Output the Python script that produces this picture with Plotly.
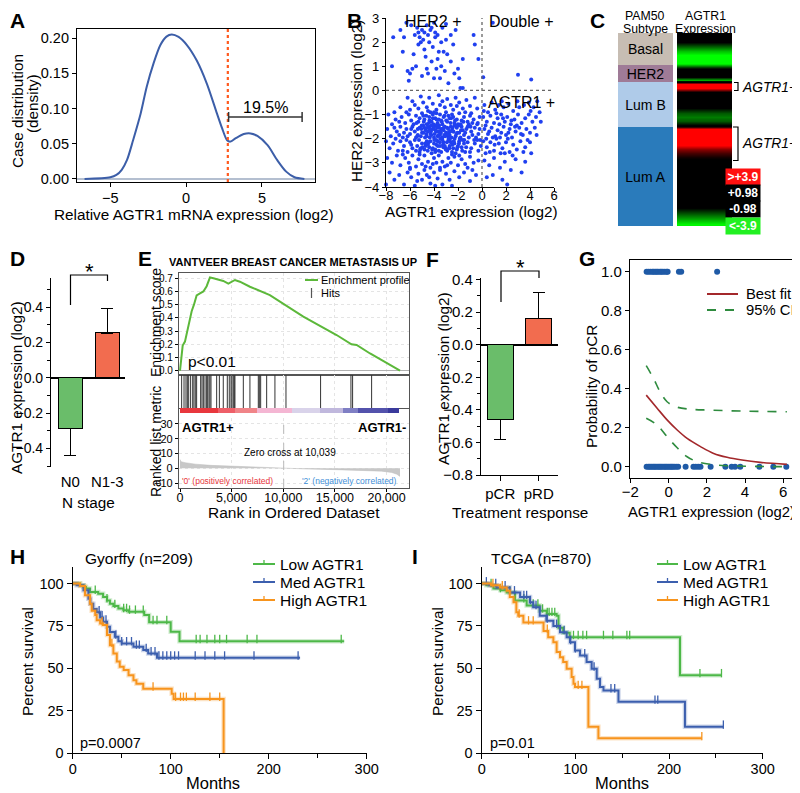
import numpy as np
import plotly.graph_objects as go

W, H = 800, 793
OFF = 8  # the page body margin shifts the figure by this many pixels
FONT = "Liberation Sans, Arial, Helvetica, sans-serif"

# ---------------- A: density of AGTR1 expression
a_x = [-6.7, -5.0, -4.6, -4.25, -3.9, -3.5, -3.0, -2.6, -2.15, -1.7, -1.3, -0.95, -0.5, 0.05, 0.7,
       1.37, 2.03, 2.37, 2.7, 2.92, 3.25, 3.8, 4.25, 4.7, 5.37, 6.0, 6.6, 7.15, 7.8]
a_density = [0.0, 0.0024, 0.0057, 0.013, 0.027, 0.055, 0.093, 0.131, 0.164, 0.19, 0.202, 0.205, 0.2015,
             0.19, 0.168, 0.135, 0.093, 0.072, 0.055, 0.053, 0.0575, 0.0637, 0.0646, 0.061, 0.048, 0.027,
             0.0104, 0.0024, 0.0]
a_cutoff = 2.75
a_span = [2.8, 7.65]
a_span_y = 0.088
a_pct = "19.5%"

# ---------------- B: AGTR1 vs HER2 (agtr1, her2)
b_her2_pos = [(-6.3, 2.8), (-5.9, 2.7), (-5.4, 2.6), (-5.0, 2.5), (-4.8, 2.4), (-4.6, 2.7), (-4.3, 2.5), (-4.0, 2.8),
              (-3.7, 2.3), (-3.3, 2.6), (-3.0, 2.75), (-2.2, 2.5), (-5.6, 2.3), (-5.2, 2.2), (-4.9, 2.1), (-4.4, 2.0),
              (-3.9, 2.2), (-4.1, 1.8), (-3.6, 1.6), (-3.2, 1.6), (-6.5, 2.2), (-7.4, 2.2), (-5.7, 1.5), (-5.5, 1.0),
              (-4.7, 1.4), (-4.2, 1.2), (-3.8, 0.9), (-3.4, 1.0), (-3.1, 0.8), (-2.6, 1.2), (-2.0, 0.9), (-1.6, 1.3),
              (-0.7, 2.3), (-0.6, 1.9), (-0.3, 1.3), (-6.0, 0.7), (-5.8, 0.9), (-6.2, 0.8), (-6.1, 0.4), (-4.5, 0.7),
              (-4.0, 0.5), (-3.5, 0.5), (-2.8, 0.3), (-1.8, 0.1), (-1.6, 0.1), (-7.5, 1.0), (-5.3, 1.9), (-4.8, 1.7),
              (-5.1, 2.0), (-4.5, 2.3), (-4.2, 2.6), (-3.9, 2.4), (-5.3, 2.4), (-3.4, 2.0), (-2.9, 1.5), (-2.4, 1.9),
              (-1.9, 0.5), (-6.6, 1.6), (-3.0, 2.1), (-4.6, 0.9), (-5.0, 0.6), (-2.3, 0.7), (-3.7, 1.3), (-6.8, 2.5),
              (-2.6, 2.3)]
b_double_pos = [(0.9, 2.8), (3.0, 0.65), (4.1, 0.45), (0.1, 0.55)]
b_agtr1_pos = [(0.2, -0.6), (0.5, -0.9), (0.8, -0.5), (1.1, -0.8), (1.4, -0.6), (1.8, -0.7), (2.2, -0.55), (2.6, -0.85),
               (3.1, -0.7), (3.5, -0.6), (3.9, -0.5), (4.3, -0.7), (4.8, -0.9), (4.6, -0.45),
               (0.1, -1.1), (0.4, -1.3), (0.7, -1.05), (1.0, -1.35), (1.3, -1.15), (1.6, -1.0), (1.9, -1.3), (2.1, -1.1),
               (2.4, -1.4), (2.7, -1.2), (3.0, -1.0), (3.3, -1.35), (3.6, -1.15), (3.9, -1.0), (4.2, -1.3), (4.5, -1.1),
               (0.3, -1.45), (1.2, -0.95), (2.9, -1.45),
               (0.2, -1.6), (0.5, -1.8), (0.8, -1.55), (1.1, -1.9), (1.3, -1.65), (1.6, -1.75), (1.8, -1.5), (2.0, -1.85),
               (2.3, -1.6), (2.5, -1.95), (2.8, -1.7), (3.1, -1.55), (3.4, -1.85), (3.7, -1.6), (4.0, -1.75), (4.4, -1.55),
               (0.9, -1.95), (1.5, -1.95), (2.2, -1.75),
               (0.1, -2.1), (0.4, -2.35), (0.7, -2.15), (1.0, -2.5), (1.4, -2.2), (1.7, -2.4), (2.0, -2.15), (2.3, -2.55),
               (2.6, -2.25), (2.9, -2.45), (3.2, -2.1), (3.6, -2.35), (4.1, -2.6), (4.0, -2.15), (0.3, -2.6), (1.2, -2.0),
               (1.9, -2.6),
               (0.2, -2.9), (0.6, -3.1), (1.0, -2.8), (1.5, -3.2), (1.9, -2.95), (2.4, -3.3), (2.8, -2.85), (3.3, -3.4),
               (0.9, -3.5), (1.7, -3.7), (2.1, -3.9), (0.4, -3.6), (3.6, -2.95),
               (0.6, -1.7), (1.45, -1.4), (2.15, -2.0), (2.75, -1.5), (3.25, -1.8), (0.35, -2.0), (1.75, -1.15),
               (2.45, -1.25), (3.8, -2.05), (1.05, -2.25), (0.65, -2.55), (1.55, -2.6), (2.55, -2.7), (3.45, -2.55),
               (4.55, -1.85), (4.9, -1.3), (0.15, -0.85), (1.65, -0.45), (2.95, -0.45), (4.05, -0.85)]
b_neither = [(-6.2, -0.3), (-5.1, -0.25), (-4.4, -0.3), (-3.6, -0.2), (-2.9, -0.35), (-2.2, -0.3), (-1.3, -0.4),
             (-0.6, -0.3), (-5.6, -0.6), (-4.9, -0.5), (-4.1, -0.55), (-3.3, -0.45), (-2.6, -0.6), (-1.9, -0.5),
             (-1.0, -0.65), (-0.4, -0.75), (-6.8, -0.7), (-6.0, -0.8), (-5.3, -0.75), (-4.6, -0.7), (-3.8, -0.8),
             (-3.1, -0.7), (-2.4, -0.8), (-1.6, -0.75), (-7.3, -0.9), (-4.3, -0.9), (-0.9, -0.95), (-3.5, -0.6),
             (-2.1, -0.65), (-5.8, -0.45),
             (-7.8, -1.0), (-7.2, -1.2), (-6.7, -1.1), (-6.4, -1.35), (-6.1, -1.0), (-5.9, -1.25), (-5.5, -1.05),
             (-5.3, -1.3), (-5.0, -0.95), (-4.8, -1.2), (-4.6, -1.4), (-4.4, -1.1), (-4.2, -1.3), (-4.0, -0.9),
             (-3.9, -1.15), (-3.7, -1.35), (-3.5, -1.0), (-3.4, -1.25), (-3.2, -1.1), (-3.0, -0.9), (-2.9, -1.3),
             (-2.7, -1.15), (-2.5, -1.0), (-2.3, -1.35), (-2.1, -1.2), (-1.9, -0.95), (-1.7, -1.25), (-1.5, -1.1),
             (-1.2, -1.3), (-1.0, -1.05), (-0.7, -1.2), (-0.4, -1.4), (-0.2, -1.1), (-6.9, -1.3), (-5.7, -1.4),
             (-4.9, -1.05), (-4.1, -1.0), (-3.6, -1.2), (-2.8, -1.05), (-2.0, -1.4), (-1.4, -0.9), (-0.8, -1.35),
             (-5.2, -1.15), (-4.5, -0.85), (-3.3, -1.4), (-2.4, -1.1), (-6.3, -0.9), (-7.5, -1.4), (-3.8, -0.95),
             (-1.1, -1.4),
             (-7.9, -1.6), (-7.6, -1.9), (-7.1, -1.7), (-6.8, -1.5), (-6.6, -1.95), (-6.3, -1.6), (-6.0, -1.8),
             (-5.8, -1.5), (-5.6, -1.7), (-5.4, -1.9), (-5.2, -1.55), (-5.0, -1.75), (-4.9, -1.45), (-4.7, -1.65),
             (-4.6, -1.9), (-4.4, -1.5), (-4.3, -1.8), (-4.1, -1.6), (-4.0, -1.95), (-3.9, -1.45), (-3.8, -1.7),
             (-3.6, -1.55), (-3.5, -1.85), (-3.4, -1.6), (-3.3, -1.95), (-3.1, -1.5), (-3.0, -1.75), (-2.9, -1.55),
             (-2.7, -1.85), (-2.6, -1.5), (-2.4, -1.7), (-2.2, -1.9), (-2.1, -1.55), (-1.9, -1.75), (-1.7, -1.5),
             (-1.5, -1.85), (-1.3, -1.6), (-1.1, -1.95), (-0.9, -1.7), (-0.6, -1.55), (-0.3, -1.8), (-6.5, -1.75),
             (-5.9, -1.6), (-5.1, -1.9), (-4.5, -1.7), (-4.2, -1.45), (-3.7, -1.9), (-3.2, -1.65), (-2.8, -1.95),
             (-2.3, -1.45), (-1.8, -1.95), (-1.2, -1.5), (-0.5, -1.95), (-7.3, -1.55), (-5.5, -1.95), (-4.8, -1.55),
             (-3.95, -1.8), (-3.55, -1.7), (-2.5, -1.65), (-1.6, -1.65), (-0.8, -1.85), (-6.2, -1.9), (-4.35, -1.6),
             (-3.15, -1.85), (-2.05, -1.75), (-5.35, -1.6), (-4.65, -1.8), (-3.75, -1.55), (-2.65, -1.7), (-1.4, -1.75),
             (-0.2, -1.6), (-6.9, -1.85),
             (-8.0, -2.1), (-7.7, -2.4), (-7.4, -2.2), (-7.0, -2.5), (-6.8, -2.1), (-6.5, -2.3), (-6.2, -2.55),
             (-6.0, -2.15), (-5.8, -2.4), (-5.6, -2.05), (-5.4, -2.3), (-5.2, -2.55), (-5.0, -2.2), (-4.8, -2.45),
             (-4.6, -2.1), (-4.4, -2.35), (-4.2, -2.6), (-4.0, -2.2), (-3.9, -2.45), (-3.7, -2.1), (-3.5, -2.3),
             (-3.4, -2.55), (-3.2, -2.15), (-3.0, -2.4), (-2.8, -2.05), (-2.7, -2.3), (-2.5, -2.55), (-2.3, -2.2),
             (-2.1, -2.45), (-1.9, -2.1), (-1.7, -2.35), (-1.4, -2.55), (-1.2, -2.15), (-0.9, -2.4), (-0.6, -2.2),
             (-0.3, -2.5), (-0.1, -2.3), (-6.6, -2.5), (-5.9, -2.25), (-5.1, -2.4), (-4.5, -2.25), (-4.1, -2.4),
             (-3.6, -2.5), (-3.1, -2.3), (-2.6, -2.15), (-2.0, -2.3), (-1.5, -2.2), (-1.0, -2.55), (-7.2, -2.0),
             (-5.5, -2.5), (-4.7, -2.3), (-3.8, -2.25), (-2.9, -2.5), (-2.2, -2.6), (-1.6, -2.05), (-0.4, -2.05),
             (-6.3, -2.05), (-4.3, -2.1), (-3.3, -2.05), (-2.4, -2.4),
             (-7.9, -2.8), (-7.5, -3.0), (-7.1, -2.7), (-6.8, -3.1), (-6.4, -2.8), (-6.1, -3.0), (-5.8, -2.7),
             (-5.5, -3.15), (-5.3, -2.85), (-5.0, -3.05), (-4.8, -2.7), (-4.5, -2.95), (-4.3, -3.2), (-4.0, -2.8),
             (-3.8, -3.0), (-3.6, -2.7), (-3.3, -2.95), (-3.1, -3.15), (-2.8, -2.8), (-2.6, -3.0), (-2.3, -2.75),
             (-2.0, -3.1), (-1.7, -2.85), (-1.4, -3.05), (-1.0, -2.75), (-0.7, -3.0), (-0.3, -2.9), (-6.6, -2.65),
             (-5.2, -2.65), (-4.1, -3.05), (-3.5, -3.2), (-2.5, -2.65), (-1.9, -2.7), (-6.0, -3.2), (-4.7, -3.15),
             (-2.9, -3.1), (-1.2, -3.2),
             (-7.7, -3.4), (-7.3, -3.7), (-6.9, -3.5), (-6.5, -3.9), (-6.2, -3.4), (-5.9, -3.6), (-5.6, -3.95),
             (-5.3, -3.45), (-5.0, -3.7), (-4.6, -3.5), (-4.3, -3.85), (-4.0, -3.4), (-3.7, -3.65), (-3.3, -3.9),
             (-3.0, -3.45), (-2.7, -3.7), (-2.3, -3.35), (-1.9, -3.6), (-1.5, -3.4), (-1.0, -3.75), (-0.5, -3.5),
             (-8.0, -3.9), (-6.0, -3.25), (-4.8, -3.3), (-3.9, -3.95), (-2.5, -3.95), (-0.8, -3.3), (-5.4, -3.75),
             (-4.4, -3.6), (-3.5, -3.3)]
b_core = [(-5.45, -1.35), (-5.25, -2.05), (-5.05, -1.6), (-4.95, -2.35), (-4.85, -1.3), (-4.75, -1.95), (-4.55, -1.55),
          (-4.45, -2.15), (-4.38, -1.25), (-4.25, -1.7), (-4.15, -2.45), (-4.05, -1.4), (-3.98, -2.05), (-3.88, -1.65),
          (-3.78, -1.2), (-3.68, -2.3), (-3.58, -1.45), (-3.48, -2.0), (-3.42, -1.75), (-3.35, -1.3), (-3.25, -2.25),
          (-3.18, -1.55), (-3.08, -1.9), (-2.98, -1.25), (-2.92, -2.15), (-2.82, -1.6), (-2.72, -2.4), (-2.62, -1.35),
          (-2.55, -1.95), (-2.45, -1.55), (-2.35, -2.1), (-2.25, -1.25), (-2.15, -1.8), (-2.05, -2.35), (-1.95, -1.45),
          (-1.85, -2.0), (-1.75, -1.65), (-1.65, -2.5), (-1.55, -1.3), (-5.35, -1.85), (-5.15, -2.45), (-4.65, -1.05),
          (-4.35, -1.95), (-4.1, -1.15), (-3.9, -2.55), (-3.62, -1.85), (-3.3, -1.6), (-3.02, -2.45), (-2.78, -1.75),
          (-2.48, -2.25), (-2.18, -1.45), (-1.92, -2.2), (-4.9, -1.75), (-4.52, -2.5), (-4.22, -1.85), (-3.72, -1.4),
          (-3.12, -1.05), (-2.88, -1.85), (-2.58, -1.15), (-2.28, -2.0), (-3.52, -2.15), (-4.02, -1.55), (-4.42, -1.35),
          (-4.72, -2.2), (-5.02, -1.45), (-3.82, -2.05), (-3.22, -2.35), (-2.68, -2.05), (-2.38, -1.7), (-1.78, -1.4),
          (-1.48, -2.05), (-1.32, -2.35), (-0.95, -1.5), (-0.65, -2.05), (-0.35, -1.35), (-0.15, -2.05)]

# ---------------- C: PAM50 subtype and AGTR1 heat strip
c_subtypes = ["Basal", "HER2", "Lum B", "Lum A"]
c_counts = [164, 87, 230, 506]
c_colors = ["#c7bdb3", "#9f7b97", "#afcbe9", "#2a7bbb"]
c_expr_basal = [0.0, 0.0, -1.2, -2.2, -3.2, -3.9, -4.2, -4.2]
c_expr_her2 = [-1.8, -0.3, 0.0, -1.0, -3.0]
c_expr_lumb = [4.2, 4.0, 0.8, 0.0, 0.0, -0.3, -1.2, -2.0, -2.4, -2.0, -1.0]
c_expr_luma = [4.2, 4.2, 4.2, 4.2, 4.0, 2.6, 1.8, 1.2, 0.8, 0.3, 0.0, 0.0, 0.0, 0.0, 0.0, 0.0, 0.0, 0.0,
               0.0, -0.3, -1.0, -1.7, -2.4, -3.1, -3.8]
c_key_labels = ["&gt;+3.9", "+0.98", "-0.98", "&lt;-3.9"]
c_key_colors = ["#ff1010", "#000000", "#000000", "#22f022"]

# ---------------- D: N stage
d_stage = ["N0", "N1-3"]
d_mean = [-0.285, 0.255]
d_err = [0.155, 0.14]

# ---------------- E: GSEA
e_rank = [0, 160, 260, 480, 650, 800, 970, 1130, 1350, 1610, 1935, 2260, 2580, 2900, 3230, 3700, 4190,
          4680, 5320, 5800, 6770, 8700, 11940, 15160, 16600, 17100, 18400, 21300]
e_es = [0.0, 0.093, 0.19, 0.22, 0.28, 0.35, 0.41, 0.45, 0.50, 0.57, 0.585, 0.60, 0.64, 0.707, 0.70, 0.69,
        0.68, 0.66, 0.687, 0.674, 0.636, 0.573, 0.41, 0.27, 0.20, 0.195, 0.13, 0.0]
e_hits = [160, 390, 580, 710, 840, 1030, 1230, 1350, 1480, 1610, 2000, 2130, 2260, 2420, 2580, 2680, 2810,
          2900, 3000, 3550, 3810, 4190, 4580, 4770, 4940, 5030, 5160, 5260, 5320, 6130, 6770, 7580, 7680,
          7810, 8390, 9190, 10260, 13610, 16550, 16710, 18550]
e_band_edges = [0, 3700, 5300, 7500, 10800, 13550, 15740, 17260, 20160, 21230]
e_band_colors = ["#e8373d", "#ee5f68", "#f08488", "#f4b6d3", "#d9d3ea", "#c0b8dd", "#7f7fc4", "#5352ac", "#3a3a9c"]
e_metric_rank = [0, 100, 500, 1500, 3000, 5000, 7500, 10039, 12500, 15000, 17500, 19500, 20500, 21000, 21300]
e_metric = [6.0, 4.5, 3.8, 2.8, 2.0, 1.4, 0.8, 0.0, -0.5, -0.9, -1.3, -1.9, -2.8, -4.0, -5.5]
e_zero_cross = 10039

# ---------------- F: treatment response
f_resp = ["pCR", "pRD"]
f_mean = [-0.46, 0.16]
f_err = [0.12, 0.16]

# ---------------- G: logistic fit
g_pcr_x = [-1.15, -1.05, -0.95, -0.85, -0.78, -0.7, -0.62, -0.55, -0.45, -0.38, -0.3, -0.2, -0.1, -0.05, 0.54, 0.66, 2.54]
g_prd_x = [-1.15, -1.05, -0.98, -0.9, -0.82, -0.75, -0.68, -0.6, -0.52, -0.45, -0.38, -0.3, -0.22, -0.15, -0.08,
           0.0, 0.08, 0.15, 0.22, 0.3, 0.4, 0.5, 0.89, 1.3, 1.42, 1.55, 1.67, 2.2, 2.97, 3.3, 3.48, 3.75, 4.75,
           5.48, 6.16]
g_fit_x = [-1.17, -0.6, -0.08, 0.45, 0.97, 1.67, 2.36, 3.06, 3.84, 4.8, 6.19]
g_fit = [0.367, 0.30, 0.24, 0.188, 0.145, 0.103, 0.068, 0.048, 0.034, 0.022, 0.012]
g_hi_x = [-1.17, -0.79, -0.45, -0.08, 0.36, 0.97, 2.19, 3.93, 6.19]
g_hi = [0.518, 0.453, 0.385, 0.333, 0.308, 0.296, 0.29, 0.285, 0.282]
g_lo_x = [-1.17, -0.6, -0.08, 0.45, 0.97, 1.5, 2.19, 3.06, 6.19]
g_lo = [0.248, 0.214, 0.154, 0.097, 0.051, 0.026, 0.012, 0.005, 0.0]

# ---------------- H: Gyorffy KM
h_low_t = [0, 7.5, 11, 13.6, 17.7, 26, 31, 35, 38, 41.5, 46.6, 51.7, 57, 73, 78, 100, 109, 277]
h_low_s = [100, 99, 98, 97, 95, 94, 92, 90, 88, 86.7, 85.3, 84.3, 83.3, 81.4, 77.2, 71.6, 66, 66]
h_low_cens = [23, 35, 43, 52, 55, 58, 64, 72, 82, 86, 96, 126, 130, 137, 145, 150, 157, 178, 188, 274]
h_med_t = [0, 4, 11, 16, 18, 21, 24.5, 28, 31, 35, 38, 43, 46.6, 50, 62, 72, 77, 86, 232]
h_med_s = [100, 99, 96, 91, 88, 85, 83, 80, 77.5, 74.5, 71.5, 68.6, 66, 64.7, 62.7, 60.8, 58.8, 56.3, 56.3]
h_med_cens = [27, 30, 34, 44, 50, 55, 60, 65, 68, 75, 80, 84, 88, 92, 96, 100, 104, 108, 125, 135, 145, 155, 185, 230]
h_high_t = [0, 7.5, 12.6, 17.7, 19.4, 23, 24.5, 28, 31, 35, 38, 41.5, 45, 48, 52, 57, 62, 65, 72, 101, 103, 154, 154]
h_high_s = [100, 98.5, 93, 88, 84, 81.4, 78.4, 76.5, 75.5, 69.6, 63.7, 58.8, 54, 51, 49, 46, 43, 41, 38, 35, 32, 32, 0]
h_high_cens = [30, 40, 82, 105, 110, 113, 116, 125, 140, 150]

# ---------------- I: TCGA KM
i_low_t = [0, 5, 12.5, 20, 26.7, 35.6, 48, 62, 69.4, 80, 82, 87, 94, 211.7, 256]
i_low_s = [100, 99, 97, 96, 94.7, 90, 87, 84, 82, 81, 74, 71, 68.4, 45.9, 45.9]
i_low_cens = [10, 20, 30, 45, 55, 60, 65, 70, 72, 75, 78, 98, 103, 108, 112, 130, 140, 155, 158, 233, 256]
i_med_t = [0, 8, 16, 30, 41, 51.6, 55, 62, 69, 76.5, 83.6, 90.7, 94.3, 99.6, 105, 112, 117.4, 122.8, 126.3,
           130, 146, 217, 258]
i_med_s = [100, 99, 97.7, 94.7, 92, 89, 86, 81, 78, 75, 71.3, 68.4, 65.4, 60.5, 57.6, 53.7, 49.8, 43.9, 39,
           37, 30.3, 15.6, 15.6]
i_med_cens = [5, 15, 25, 35, 45, 48, 52, 58, 70, 80, 88, 95, 100, 110, 120, 138, 142, 185, 188, 258]
i_high_t = [0, 10, 19.6, 26.7, 30, 34, 37, 39, 44.5, 62, 66, 71, 76.5, 80, 83.6, 87, 90.7, 96, 98, 99.6,
            112, 113.9, 124.6, 235]
i_high_s = [100, 99, 97.7, 95.7, 92, 89, 83, 81, 77, 77, 72, 68.4, 65.4, 59.6, 56.6, 53.7, 49.8, 45, 41, 39,
            39, 15.6, 8.8, 8.8]
i_high_cens = [12, 22, 40, 50, 55, 70, 103, 107, 235]

KM_COLORS = ["#4db848", "#3c5fae", "#f7941d"]
KM_NAMES = ["Low AGTR1", "Med AGTR1", "High AGTR1"]


def px(x):
    return (x - OFF) / W


def py(y):
    return 1 - (y - OFF) / H


def xd(a, b):
    return [px(a), px(b)]


def yd(top, bot):
    return [py(bot), py(top)]


def ppath(points):
    return "M " + " L ".join(f"{px(x):.5f},{py(y):.5f}" for x, y in points)


def ax(**kw):
    d = dict(showline=True, linecolor="black", linewidth=1.2, ticks="outside", ticklen=4, tickwidth=1.2,
             tickcolor="black", showgrid=False, zeroline=False, automargin=False,
             tickfont=dict(size=14.5, family=FONT, color="black"))
    d.update(kw)
    return d


def step_at(times, surv, t):
    i = int(np.searchsorted(times, t, side="right")) - 1
    return surv[max(i, 0)]


annotations = []
shapes = []


def txt(text, x, y, size=15.3, angle=0, xanchor="center", color="black", xref="paper", yref="paper"):
    if xref == "paper":
        x = px(x)
    if yref == "paper":
        y = py(y)
    annotations.append(dict(text=text, x=x, y=y, xref=xref, yref=yref, showarrow=False, textangle=angle,
                            xanchor=xanchor, yanchor="middle",
                            font=dict(size=size, color=color, family=FONT)))


fig = go.Figure()

# ---- A
fig.add_trace(go.Scatter(x=a_x, y=a_density, mode="lines",
                         line=dict(color="#3c5ea8", width=2, shape="spline", smoothing=0.8),
                         xaxis="x", yaxis="y"))
shapes.append(dict(type="line", xref="x", yref="y domain", x0=a_cutoff, x1=a_cutoff, y0=0, y1=1,
                   line=dict(color="#ff5a1f", width=2.2, dash="dot")))
shapes.append(dict(type="line", xref="x", yref="y", x0=a_span[0], x1=a_span[1], y0=a_span_y, y1=a_span_y,
                   line=dict(color="#333", width=1.5)))
for xv in a_span:
    shapes.append(dict(type="line", xref="x", yref="y", x0=xv, x1=xv, y0=a_span_y - 0.007, y1=a_span_y + 0.007,
                       line=dict(color="#333", width=1.5)))
txt(a_pct, (a_span[0] + a_span[1]) / 2, a_span_y + 0.014, size=16, xref="x", yref="y")

# ---- B
b_all = b_her2_pos + b_double_pos + b_agtr1_pos + b_neither + b_core
fig.add_trace(go.Scatter(x=[p[0] for p in b_all], y=[p[1] for p in b_all], mode="markers",
                         marker=dict(color="#2040f0", size=4), xaxis="x2", yaxis="y2", cliponaxis=False))
shapes.append(dict(type="line", xref="x2", yref="y2 domain", x0=0, x1=0, y0=0, y1=1,
                   line=dict(color="#666", width=1.3, dash="dot")))
shapes.append(dict(type="line", xref="x2 domain", yref="y2", x0=0, x1=1, y0=0, y1=0,
                   line=dict(color="#666", width=1.3, dash="dot")))
txt("HER2 +", -4.1, 2.85, size=16, xref="x2", yref="y2")
txt("Double +", 3.25, 2.85, size=16, xref="x2", yref="y2")
txt("AGTR1 +", 3.25, -0.5, size=16, xref="x2", yref="y2")

# ---- C
for name, n, col in zip(c_subtypes, c_counts, c_colors):
    fig.add_trace(go.Bar(x=[0], y=[n], width=1, marker=dict(color=col, line=dict(width=0)),
                         text=[name], textposition="inside", insidetextanchor="middle", constraintext="none",
                         textfont=dict(size=14, color="black", family=FONT), xaxis="x3", yaxis="y3"))
hm_y, hm_z = [], []
start = 0
for n, vals in zip(c_counts, [c_expr_basal, c_expr_her2, c_expr_lumb, c_expr_luma]):
    k = len(vals)
    for i, v in enumerate(vals):
        hm_y.append(start + (i + 0.5) * n / k)
        hm_z.append([v, v])
    start += n
fig.add_trace(go.Heatmap(x=[0, 1], y=hm_y, z=hm_z, zmin=-3.9, zmax=3.9, zsmooth="best", showscale=False,
                         colorscale=[[0, "#00ff00"], [0.374, "#000000"], [0.626, "#000000"], [1, "#ff0000"]],
                         xaxis="x4", yaxis="y4"))
for i, (lab, col) in enumerate(zip(c_key_labels, c_key_colors)):
    annotations.append(dict(text=f"<b>{lab}</b>", x=px(761), y=py(167.5 + i * 16.5), xref="paper", yref="paper",
                            showarrow=False, width=34, height=16, bgcolor=col, borderpad=0,
                            font=dict(size=12, color="white", family=FONT)))
shapes.append(dict(type="path", xref="paper", yref="paper", path=ppath([(734, 82.5), (738, 82.5), (738, 90.5), (734, 90.5)]),
                   line=dict(color="black", width=1.2)))
shapes.append(dict(type="path", xref="paper", yref="paper", path=ppath([(733, 127), (738, 127), (738, 160.5), (733, 160.5)]),
                   line=dict(color="black", width=1.2)))
txt("<i>AGTR1+</i>", 740, 87, size=13.8, xanchor="left")
txt("<i>AGTR1+</i>", 740, 143, size=13.8, xanchor="left")
txt("PAM50", 645, 15.8, size=12.3)
txt("Subtype", 645, 29, size=12.3)
txt("AGTR1", 705, 15.8, size=12.3)
txt("Expression", 705, 29, size=12.3)


def bar_err(means, errs):
    up = [e if m > 0 else 0 for m, e in zip(means, errs)]
    down = [e if m < 0 else 0 for m, e in zip(means, errs)]
    return dict(type="data", symmetric=False, array=up, arrayminus=down, color="black", thickness=1.3, width=6)


# ---- D
fig.add_trace(go.Bar(x=d_stage, y=d_mean, width=0.65,
                     marker=dict(color=["#6abd6a", "#f26c4f"], line=dict(color="black", width=1.2)),
                     error_y=bar_err(d_mean, d_err), xaxis="x5", yaxis="y5"))
shapes.append(dict(type="path", xref="paper", yref="paper", path=ppath([(70.5, 305), (70.5, 275), (107.5, 275), (107.5, 281)]),
                   line=dict(color="black", width=1.2)))
txt("*", 89, 271, size=22)

# ---- E
fig.add_trace(go.Scatter(x=e_rank, y=e_es, mode="lines", line=dict(color="#5cb83a", width=2),
                         xaxis="x6", yaxis="y6"))
hx, hy = [], []
for r in e_hits:
    hx += [r, r, None]
    hy += [0, 1, None]
fig.add_trace(go.Scatter(x=hx, y=hy, mode="lines", line=dict(color="#333", width=1), xaxis="x7", yaxis="y7"))
nb = len(e_band_colors)
fig.add_trace(go.Heatmap(x=e_band_edges, y=[0, 1], z=[list(range(nb))], zmin=0, zmax=nb - 1, showscale=False,
                         colorscale=[[i / (nb - 1), c] for i, c in enumerate(e_band_colors)],
                         xaxis="x8", yaxis="y8"))
fig.add_trace(go.Scatter(x=e_metric_rank, y=e_metric, mode="lines", line=dict(color="#bdbdbd", width=0.5),
                         fill="tozeroy", fillcolor="#c8c8c8", xaxis="x9", yaxis="y9"))
shapes.append(dict(type="line", xref="x9", yref="y9 domain", x0=e_zero_cross, x1=e_zero_cross, y0=0, y1=1,
                   line=dict(color="#bbbbbb", width=1, dash="dash")))
txt("<b>VANTVEER BREAST CANCER METASTASIS UP</b>", 293, 262, size=11)
txt("p&lt;0.01", 186, 361, size=15.5, xanchor="left")
txt("<b>AGTR1+</b>", 180, 428, size=13, xanchor="left")
txt("<b>AGTR1-</b>", 408, 428, size=13, xanchor="right")
txt("Zero cross at 10,039", 290, 452, size=10)
txt("'0' (positively correlated)", 180, 481, size=8.5, xanchor="left", color="#e8373d")
txt("'2' (negatively correlated)", 399, 481, size=8.5, xanchor="right", color="#3f8fd8")
txt("Enrichment score", 156, 323, size=14, angle=-90)
txt("Ranked list metric", 156, 442, size=14, angle=-90)
txt("Rank in Ordered Dataset", 294, 512, size=15.5)
shapes.append(dict(type="line", xref="paper", yref="paper", x0=px(305), x1=px(318), y0=py(280), y1=py(280),
                   line=dict(color="#5cb83a", width=2)))
shapes.append(dict(type="line", xref="paper", yref="paper", x0=px(311.5), x1=px(311.5), y0=py(288), y1=py(298),
                   line=dict(color="#555", width=1.2)))
txt("Enrichment profile", 319, 280, size=11, xanchor="left")
txt("Hits", 319, 293, size=11, xanchor="left")

# ---- F
fig.add_trace(go.Bar(x=f_resp, y=f_mean, width=0.67,
                     marker=dict(color=["#6abd6a", "#f26c4f"], line=dict(color="black", width=1.2)),
                     error_y=bar_err(f_mean, f_err), xaxis="x10", yaxis="y10"))
shapes.append(dict(type="path", xref="paper", yref="paper", path=ppath([(501, 302), (501, 271), (539, 271), (539, 278)]),
                   line=dict(color="black", width=1.2)))
txt("*", 520, 267, size=22)

# ---- G
fig.add_trace(go.Scatter(x=g_pcr_x + g_prd_x, y=[1.0] * len(g_pcr_x) + [0.0] * len(g_prd_x), mode="markers",
                         marker=dict(color="#1f5aa6", size=6), xaxis="x11", yaxis="y11", cliponaxis=False))
fig.add_trace(go.Scatter(x=g_hi_x, y=g_hi, mode="lines", line=dict(color="#2e8b3e", width=1.6, dash="dash", shape="spline"),
                         xaxis="x11", yaxis="y11"))
fig.add_trace(go.Scatter(x=g_lo_x, y=g_lo, mode="lines", line=dict(color="#2e8b3e", width=1.6, dash="dash", shape="spline"),
                         xaxis="x11", yaxis="y11"))
fig.add_trace(go.Scatter(x=g_fit_x, y=g_fit, mode="lines", line=dict(color="#a3282b", width=1.6, shape="spline"),
                         xaxis="x11", yaxis="y11"))
shapes.append(dict(type="line", xref="paper", yref="paper", x0=px(707), x1=px(738), y0=py(294), y1=py(294),
                   line=dict(color="#a3282b", width=2)))
shapes.append(dict(type="line", xref="paper", yref="paper", x0=px(707), x1=px(738), y0=py(310), y1=py(310),
                   line=dict(color="#2e8b3e", width=2, dash="dash")))
txt("Best fit", 744, 294, size=14.8, xanchor="left")
txt("95% CI", 744, 310, size=14.8, xanchor="left")
txt("Probability of pCR", 592, 387, angle=-90)
txt("AGTR1 expression (log2)", 711, 512, size=14.8)


# ---- H, I
def km(axx, axy, groups):
    for (t, s, cens), col in zip(groups, KM_COLORS):
        fig.add_trace(go.Scatter(x=t, y=s, mode="lines", line=dict(color=col, width=4.5, shape="hv"),
                                 opacity=0.25, xaxis=axx, yaxis=axy))
        fig.add_trace(go.Scatter(x=t, y=s, mode="lines", line=dict(color=col, width=2, shape="hv"),
                                 xaxis=axx, yaxis=axy))
        fig.add_trace(go.Scatter(x=cens, y=[step_at(t, s, c) + 1.3 for c in cens], mode="markers",
                                 marker=dict(symbol="line-ns", size=6, line=dict(color=col, width=1.3)),
                                 xaxis=axx, yaxis=axy, cliponaxis=False))


km("x12", "y12", [(h_low_t, h_low_s, h_low_cens), (h_med_t, h_med_s, h_med_cens), (h_high_t, h_high_s, h_high_cens)])
km("x13", "y13", [(i_low_t, i_low_s, i_low_cens), (i_med_t, i_med_s, i_med_cens), (i_high_t, i_high_s, i_high_cens)])


def km_legend(x0, x1, ys):
    for yv, col, name in zip(ys, KM_COLORS, KM_NAMES):
        shapes.append(dict(type="line", xref="paper", yref="paper", x0=px(x0), x1=px(x1), y0=py(yv), y1=py(yv),
                           line=dict(color=col, width=2)))
        xm = (x0 + x1) / 2
        shapes.append(dict(type="line", xref="paper", yref="paper", x0=px(xm), x1=px(xm), y0=py(yv), y1=py(yv - 4),
                           line=dict(color=col, width=1.3)))
        txt(name, x1 + 3, yv, size=15.5, xanchor="left")


km_legend(253, 275, [564, 582, 600])
km_legend(657, 678, [564, 582, 600])
txt("Gyorffy (n=209)", 139, 558, size=15.5)
txt("TCGA (n=870)", 541, 558, size=15.5)
txt("p=0.0007", 78, 743, size=14.5, xanchor="left")
txt("p=0.01", 488, 743, size=14.5, xanchor="left")
txt("Percent survival", 27, 662, angle=-90)
txt("Percent survival", 437, 662, angle=-90)
txt("Months", 213, 783, size=16.5)
txt("Months", 622, 783, size=16.5)

# ---- other axis titles
txt("Case distribution", 17, 111, angle=-90)
txt("(density)", 33, 104, angle=-90)
txt("Relative AGTR1 mRNA expression (log2)", 194, 214)
txt("HER2 expression (log2)", 357, 101, angle=-90)
txt("AGTR1 expression (log2)", 472, 212)
txt("AGTR1 expression (log2)", 16, 388, angle=-90)
txt("N stage", 88, 502)
txt("AGTR1 expression (log2)", 443, 378, angle=-90)
txt("Treatment response", 520, 512)

for letter, x, y, anchor in [("A", 8, 20.5, "left"), ("B", 354, 20.5, "center"), ("C", 597, 20.5, "center"),
                             ("D", 8, 258, "left"), ("E", 145, 258, "center"), ("F", 432, 259, "center"),
                             ("G", 587, 258, "center"), ("H", 8, 556, "left"), ("I", 415, 556, "center")]:
    txt(f"<b>{letter}</b>", x, y, size=21, xanchor=anchor)

# ---------------- layout
Egrid = dict(showgrid=True, gridcolor="#e4e4e4", griddash="dot", gridwidth=1)
erange = [-97, 22170]
f13 = dict(size=13, family=FONT, color="black")
f14 = dict(size=14, family=FONT, color="black")
f15 = dict(size=15, family=FONT, color="black")
layout = dict(
    xaxis=ax(domain=xd(77, 315), range=[-7.2, 8.5], mirror=True, tickvals=[-5, 0, 5], ticklabelstandoff=-2,
             anchor="y"),
    yaxis=ax(domain=yd(29, 182), range=[-0.0043, 0.2128], mirror=True, tickvals=[0, 0.05, 0.1, 0.15, 0.2],
             tickformat=".2f", zeroline=True, zerolinecolor="#b4bfd0", zerolinewidth=2, anchor="x"),
    xaxis2=ax(domain=xd(386, 554), range=[-8, 6], dtick=2, tickfont=f13, ticklen=3, ticklabelstandoff=-7,
              anchor="y2"),
    yaxis2=ax(domain=yd(18, 187), range=[-4, 3], dtick=1, tickfont=f13, ticklen=3, anchor="x2"),
    xaxis3=dict(domain=xd(618, 673), range=[-0.5, 0.5], visible=False, anchor="y3"),
    yaxis3=dict(domain=yd(33, 226), range=[sum(c_counts), 0], visible=False, anchor="x3"),
    xaxis4=dict(domain=xd(677, 732), range=[-0.5, 1.5], visible=False, anchor="y4"),
    yaxis4=dict(domain=yd(33, 226), range=[sum(c_counts), 0], visible=False, anchor="x4"),
    xaxis5=ax(domain=xd(51, 125), type="category", range=[-0.52, 1.48], showline=False, ticks="",
              tickfont=f15, ticklabelstandoff=4, anchor="y5"),
    yaxis5=ax(domain=yd(278, 467), range=[-0.505, 0.566], dtick=0.2, tick0=0, tickformat=".1f",
              minor=dict(dtick=0.1, tick0=0, ticks="outside", ticklen=2.5, tickcolor="black"),
              zeroline=True, zerolinecolor="black", zerolinewidth=1.5, tickfont=f14, anchor="x5"),
    xaxis6=ax(domain=xd(179, 409), range=erange, mirror=True, ticks="", showticklabels=False, linecolor="#555",
              dtick=5000, **Egrid, anchor="y6"),
    yaxis6=ax(domain=yd(273, 375), range=[-0.033, 0.74], mirror=True, linecolor="#555", ticklen=3,
              tickvals=[0, 0.1, 0.2, 0.3, 0.4, 0.5, 0.6, 0.7], tickformat=".1f",
              zeroline=True, zerolinecolor="#b0b0b0", zerolinewidth=1.2,
              tickfont=dict(size=10, family=FONT, color="black"), **Egrid, anchor="x6"),
    xaxis7=ax(domain=xd(179, 409), range=erange, mirror=True, ticks="", showticklabels=False, linecolor="#555",
              dtick=5000, **Egrid, anchor="y7"),
    yaxis7=ax(domain=yd(375, 408), range=[0, 1], mirror=True, ticks="", showticklabels=False, linecolor="#555",
              anchor="x7"),
    xaxis8=dict(domain=xd(179, 409), range=erange, visible=False, anchor="y8"),
    yaxis8=ax(domain=yd(408, 418), range=[-0.5, 0.5], mirror=True, ticks="", showticklabels=False,
              linecolor="#555", anchor="x8"),
    xaxis9=ax(domain=xd(179, 409), range=erange, linecolor="#555", tickvals=[0, 5000, 10000, 15000, 20000],
              tickformat=",d", ticklen=3, ticklabelstandoff=-5,
              tickfont=dict(size=12.5, family=FONT, color="black"), **Egrid, anchor="y9"),
    yaxis9=ax(domain=yd(418, 488), range=[-13.3, 34], mirror=True, linecolor="#555", ticklen=3,
              tickvals=[-10, 0, 10, 20, 30], tickfont=dict(size=11, family=FONT, color="black"),
              **Egrid, anchor="x9"),
    xaxis10=ax(domain=xd(481, 558), type="category", range=[-0.5, 1.5], ticklen=5, tickfont=f15, anchor="y10"),
    yaxis10=ax(domain=yd(278, 475), range=[-0.8, 0.41], dtick=0.2, tick0=0, tickformat=".1f",
               minor=dict(dtick=0.1, tick0=0, ticks="outside", ticklen=2.5, tickcolor="black"),
               zeroline=True, zerolinecolor="black", zerolinewidth=1.5, tickfont=f15, anchor="x10"),
    xaxis11=ax(domain=xd(630, 797), range=[-2.02, 6.72], mirror=True, dtick=2, tick0=0, tickfont=f15,
               ticklabelstandoff=-4, anchor="y11"),
    yaxis11=ax(domain=yd(260, 478), range=[-0.058, 1.06], mirror=True, dtick=0.2, tick0=0, tickformat=".1f",
               tickfont=f15, anchor="x11"),
    xaxis12=ax(domain=xd(72.7, 366.7), range=[0, 300], dtick=100, ticklen=5, ticklabelstandoff=-3,
               minor=dict(dtick=50, ticks="outside", ticklen=4, tickcolor="black"), anchor="y12"),
    yaxis12=ax(domain=yd(566.5, 753.3), range=[0, 110], tickvals=[0, 25, 50, 75, 100], ticklen=5, anchor="x12"),
    xaxis13=ax(domain=xd(481.7, 762.7), range=[0, 300], dtick=100, ticklen=5, ticklabelstandoff=-3,
               minor=dict(dtick=50, ticks="outside", ticklen=4, tickcolor="black"), anchor="y13"),
    yaxis13=ax(domain=yd(566.5, 753.3), range=[0, 110], tickvals=[0, 25, 50, 75, 100], ticklen=5, anchor="x13"),
)

fig.update_layout(**layout)
fig.update_layout(width=W, height=H, margin=dict(l=0, r=0, t=0, b=0, pad=0, autoexpand=False),
                  paper_bgcolor="white", plot_bgcolor="white", showlegend=False, barmode="stack",
                  hovermode=False, font=dict(family=FONT, color="black"),
                  annotations=annotations, shapes=shapes)

fig.write_html("out.html")
